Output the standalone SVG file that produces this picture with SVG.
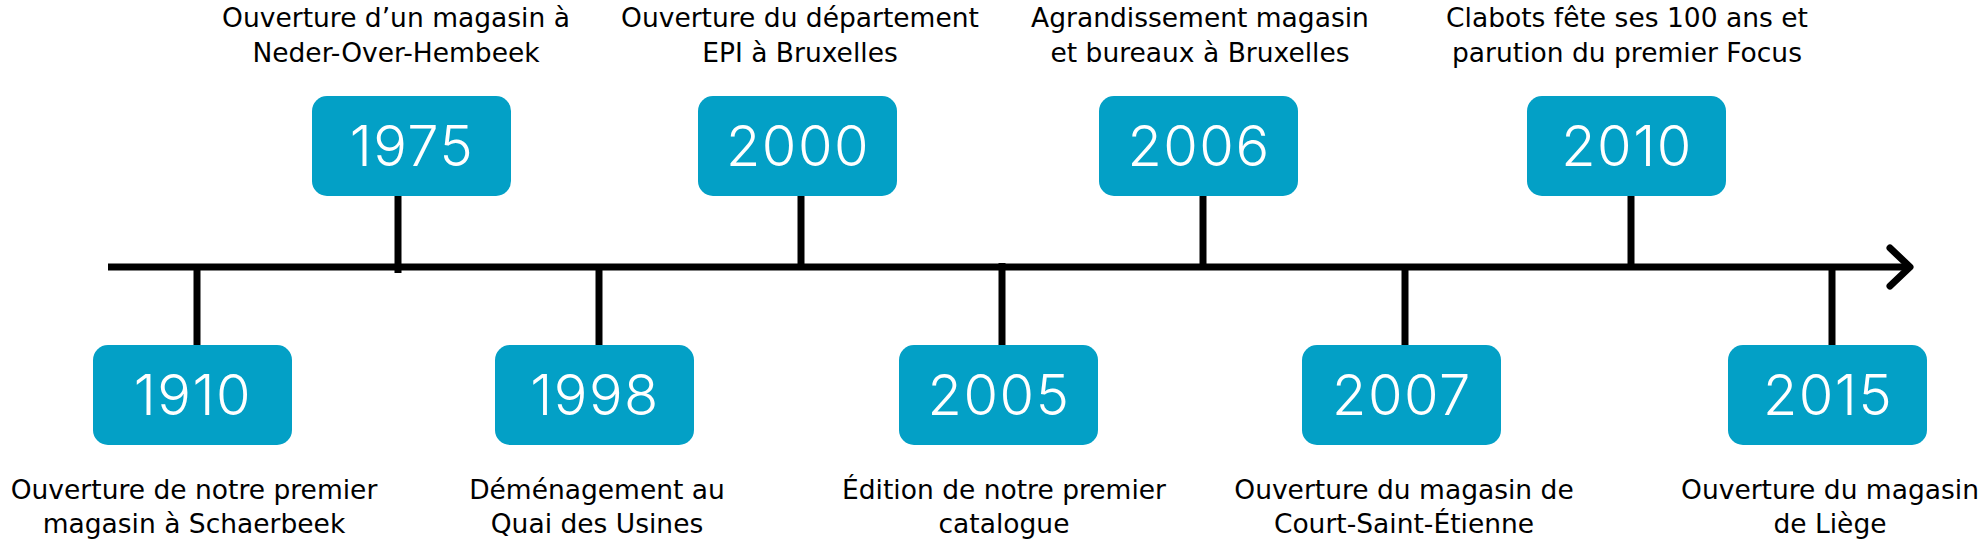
<svg xmlns="http://www.w3.org/2000/svg" width="1982" height="542" viewBox="0 0 1982 542">
<style>
.box{fill:#03a0c6}
.yr{font-family:Inter,"DejaVu Sans",sans-serif;font-weight:350;font-size:56px;letter-spacing:1.5px;fill:#ffffff;text-anchor:middle}
.lb{font-family:"DejaVu Sans","Liberation Sans",sans-serif;font-size:26.5px;fill:#000000;text-anchor:middle}
.ln{stroke:#000000;stroke-width:7;fill:none}
</style>
<rect width="1982" height="542" fill="#ffffff"/>
<g id="connectors">
<path class="ln" d="M108 267H1908"/>
<path class="ln" d="M1890 248L1910 267L1890 286" stroke-linecap="round" stroke-linejoin="round"/>
<path class="ln" d="M197 264V345"/>
<path class="ln" d="M398 196V273"/>
<path class="ln" d="M599 264V345"/>
<path class="ln" d="M801 196V270"/>
<path class="ln" d="M1002 263V345"/>
<path class="ln" d="M1203 196V270"/>
<path class="ln" d="M1405 264V345"/>
<path class="ln" d="M1631 196V270"/>
<path class="ln" d="M1832 264V345"/>
</g>
<g id="n1910">
<rect class="box" x="93" y="345" width="199" height="100" rx="15"/>
<text class="yr" x="193" y="415">1910</text>
<text class="lb" x="194" y="499">Ouverture de notre premier</text>
<text class="lb" x="194" y="533">magasin à Schaerbeek</text>
</g>
<g id="n1975">
<rect class="box" x="312" y="96" width="199" height="100" rx="15"/>
<text class="yr" x="412" y="166">1975</text>
<text class="lb" x="396" y="27">Ouverture d’un magasin à</text>
<text class="lb" x="396" y="62">Neder-Over-Hembeek</text>
</g>
<g id="n1998">
<rect class="box" x="495" y="345" width="199" height="100" rx="15"/>
<text class="yr" x="595" y="415">1998</text>
<text class="lb" x="597" y="499">Déménagement au</text>
<text class="lb" x="597" y="533">Quai des Usines</text>
</g>
<g id="n2000">
<rect class="box" x="698" y="96" width="199" height="100" rx="15"/>
<text class="yr" x="798" y="166">2000</text>
<text class="lb" x="800" y="27">Ouverture du département</text>
<text class="lb" x="800" y="62">EPI à Bruxelles</text>
</g>
<g id="n2005">
<rect class="box" x="899" y="345" width="199" height="100" rx="15"/>
<text class="yr" x="999" y="415">2005</text>
<text class="lb" x="1004" y="499">Édition de notre premier</text>
<text class="lb" x="1004" y="533">catalogue</text>
</g>
<g id="n2006">
<rect class="box" x="1099" y="96" width="199" height="100" rx="15"/>
<text class="yr" x="1199" y="166">2006</text>
<text class="lb" x="1200" y="27">Agrandissement magasin</text>
<text class="lb" x="1200" y="62">et bureaux à Bruxelles</text>
</g>
<g id="n2007">
<rect class="box" x="1302" y="345" width="199" height="100" rx="15"/>
<text class="yr" x="1402" y="415">2007</text>
<text class="lb" x="1404" y="499">Ouverture du magasin de</text>
<text class="lb" x="1404" y="533">Court-Saint-Étienne</text>
</g>
<g id="n2010">
<rect class="box" x="1527" y="96" width="199" height="100" rx="15"/>
<text class="yr" x="1627" y="166">2010</text>
<text class="lb" x="1627" y="27">Clabots fête ses 100 ans et</text>
<text class="lb" x="1627" y="62">parution du premier Focus</text>
</g>
<g id="n2015">
<rect class="box" x="1728" y="345" width="199" height="100" rx="15"/>
<text class="yr" x="1828" y="415">2015</text>
<text class="lb" x="1830" y="499">Ouverture du magasin</text>
<text class="lb" x="1830" y="533">de Liège</text>
</g>
</svg>
